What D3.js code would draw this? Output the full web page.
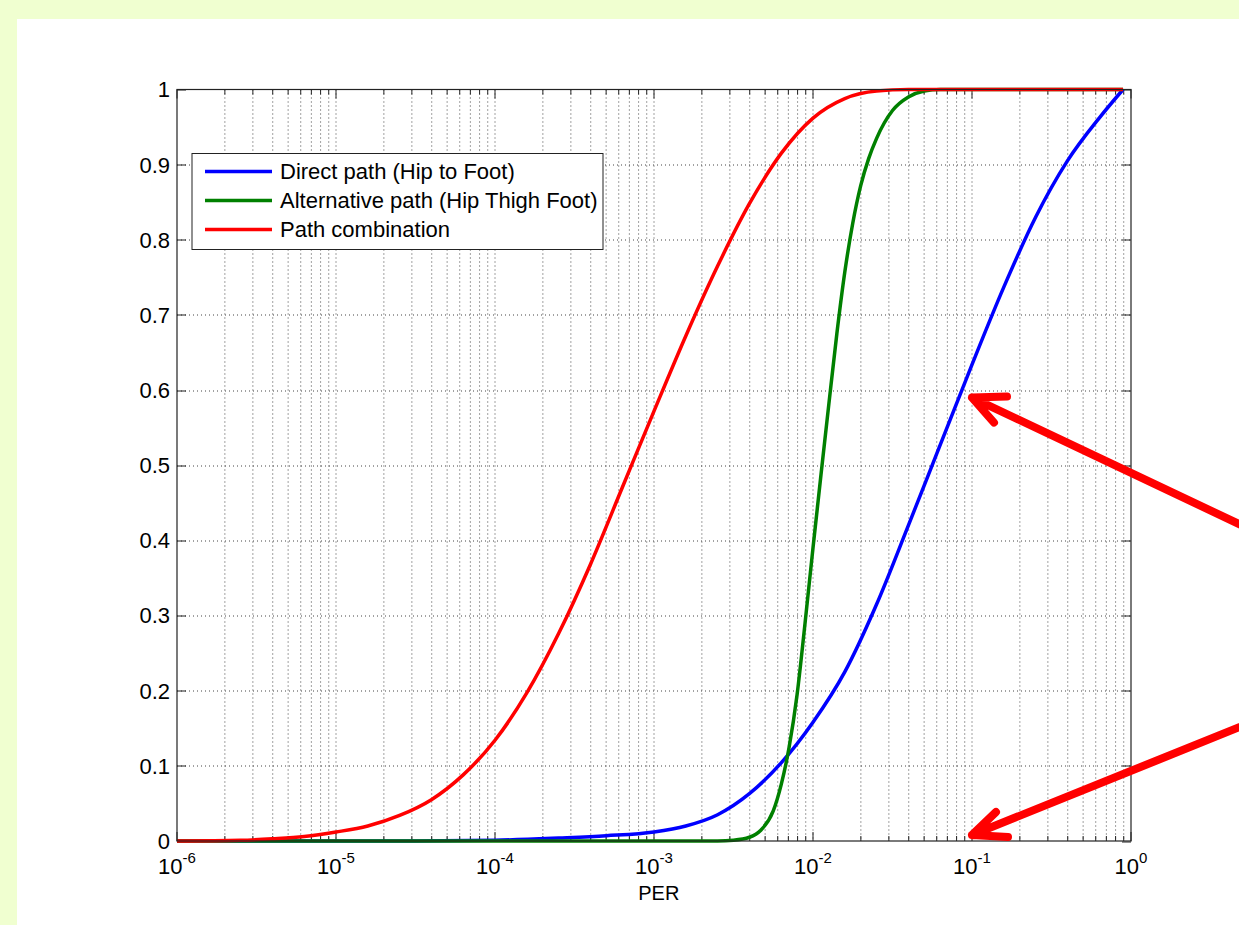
<!DOCTYPE html>
<html>
<head>
<meta charset="utf-8">
<script src="https://cdn.jsdelivr.net/npm/d3@7"></script>
<style>
body { margin: 0; background: #f0ffd0; overflow: hidden; }
text { font-family: "Liberation Sans", Arial, sans-serif; fill: #000; }
</style>
</head>
<body>
<svg id="chart" width="1239" height="925"></svg>
<script>
// PER is stored as its power of ten (log10 PER), values are probabilities
var blueExp = [-6, -4.5, -4.0, -3.6, -3.3, -3.0, -2.8, -2.6, -2.4, -2.2, -2.0, -1.8, -1.6, -1.4, -1.2, -1.0, -0.8, -0.6, -0.4, -0.2, -0.05];
var blueVal = [0, 0, 0.001, 0.004, 0.007, 0.012, 0.02, 0.035, 0.063, 0.104, 0.158, 0.225, 0.315, 0.42, 0.527, 0.634, 0.737, 0.83, 0.905, 0.962, 1];

var greenExp = [-6, -2.6, -2.5, -2.4, -2.33, -2.25, -2.2, -2.15, -2.1, -2.05, -2.0, -1.95, -1.9, -1.85, -1.8, -1.75, -1.7, -1.65, -1.6, -1.5, -1.4, -1.3, -1.2, -0.05];
var greenVal = [0, 0, 0.001, 0.005, 0.014, 0.04, 0.075, 0.125, 0.195, 0.29, 0.39, 0.487, 0.582, 0.675, 0.757, 0.822, 0.872, 0.908, 0.935, 0.972, 0.99, 0.998, 1, 1];

var redExp = [-6, -5.6, -5.4, -5.2, -5.0, -4.8, -4.6, -4.4, -4.2, -4.0, -3.8, -3.6, -3.4, -3.2, -3.0, -2.8, -2.6, -2.4, -2.2, -2.0, -1.8, -1.6, -1.4, -0.05];
var redVal = [0, 0.001, 0.003, 0.006, 0.012, 0.02, 0.034, 0.055, 0.088, 0.134, 0.197, 0.276, 0.368, 0.47, 0.572, 0.672, 0.765, 0.848, 0.915, 0.962, 0.988, 0.998, 1, 1];

var seriesNames = ["Direct path (Hip to Foot)", "Alternative path (Hip Thigh Foot)", "Path combination"];
var seriesColors = ["#0000ff", "#008000", "#ff0000"];

var xTickExp = [-6, -5, -4, -3, -2, -1, 0];
var yTicks = [0, 0.1, 0.2, 0.3, 0.4, 0.5, 0.6, 0.7, 0.8, 0.9, 1];
var yTickLabels = ["0", "0.1", "0.2", "0.3", "0.4", "0.5", "0.6", "0.7", "0.8", "0.9", "1"];
var xLabel = "PER";

// the two red arrows point at these (PER, value) spots
var arrowPer = [0.1, 0.1];
var arrowVal = [0.59, 0.008];

var margin = {top: 89.5, left: 177},
    width = 954,
    height = 751.5;

var svg = d3.select("#chart");

// white figure panel
svg.append("rect")
  .attr("x", 17).attr("y", 19)
  .attr("width", 1239 - 17).attr("height", 925 - 19)
  .attr("fill", "#ffffff");

var g = svg.append("g")
  .attr("transform", "translate(" + margin.left + "," + margin.top + ")");

var x = d3.scaleLog().domain([1e-6, 1]).range([0, width]);
var y = d3.scaleLinear().domain([0, 1]).range([height, 0]);

var allXTicks = x.ticks();
var isMajor = function(v) { return Math.abs(Math.log10(v) - Math.round(Math.log10(v))) < 1e-9; };

// GRID
g.selectAll(".xgrid")
  .data(allXTicks.filter(function(v) { return v > 1e-6 && v < 1; }))
  .enter().append("line")
    .attr("x1", function(d) { return x(d); })
    .attr("x2", function(d) { return x(d); })
    .attr("y1", 0).attr("y2", height)
    .attr("stroke", "#444").attr("stroke-width", 1)
    .attr("stroke-dasharray", "1,3");

g.selectAll(".ygrid")
  .data(yTicks.filter(function(v) { return v > 0 && v < 1; }))
  .enter().append("line")
    .attr("x1", 0).attr("x2", width)
    .attr("y1", function(d) { return Math.round(y(d)) + 0.5; })
    .attr("y2", function(d) { return Math.round(y(d)) + 0.5; })
    .attr("stroke", "#444").attr("stroke-width", 1)
    .attr("stroke-dasharray", "1,3");

// TICKS (inward, on all four sides)
allXTicks.forEach(function(v) {
  var len = isMajor(v) ? 9 : 5;
  g.append("line").attr("x1", x(v)).attr("x2", x(v)).attr("y1", height).attr("y2", height - len)
    .attr("stroke", "#222").attr("stroke-width", 1);
  g.append("line").attr("x1", x(v)).attr("x2", x(v)).attr("y1", 0).attr("y2", len)
    .attr("stroke", "#222").attr("stroke-width", 1);
});
yTicks.forEach(function(v) {
  var yy = Math.round(y(v)) + 0.5;
  g.append("line").attr("x1", 0).attr("x2", 9).attr("y1", yy).attr("y2", yy)
    .attr("stroke", "#222").attr("stroke-width", 1);
  g.append("line").attr("x1", width).attr("x2", width - 9).attr("y1", yy).attr("y2", yy)
    .attr("stroke", "#222").attr("stroke-width", 1);
});

// TICK LABELS
g.selectAll(".ylab")
  .data(yTicks)
  .enter().append("text")
    .attr("x", -7)
    .attr("y", function(d) { return y(d); })
    .attr("dy", "0.36em")
    .attr("text-anchor", "end")
    .attr("font-size", "22px")
    .text(function(d, i) { return yTickLabels[i]; });

var xl = g.selectAll(".xlab")
  .data(xTickExp)
  .enter().append("text")
    .attr("x", function(d) { return x(Math.pow(10, d)); })
    .attr("y", height + 33)
    .attr("text-anchor", "middle")
    .attr("font-size", "22px");
xl.append("tspan").text("10");
xl.append("tspan")
  .attr("font-size", "15px")
  .attr("dy", -11)
  .text(function(d) { return String(d); });

g.append("text")
  .attr("x", x(Math.pow(10, -2.97)))
  .attr("y", height + 59)
  .attr("text-anchor", "middle")
  .attr("font-size", "20px")
  .text(xLabel);

// CURVES
var line = d3.line()
  .x(function(d) { return x(Math.pow(10, d[0])); })
  .y(function(d) { return y(d[1]); })
  .curve(d3.curveMonotoneX);

var series = [
  d3.zip(blueExp, blueVal),
  d3.zip(greenExp, greenVal),
  d3.zip(redExp, redVal)
];

g.selectAll(".curve")
  .data(series)
  .enter().append("path")
    .attr("d", line)
    .attr("fill", "none")
    .attr("stroke", function(d, i) { return seriesColors[i]; })
    .attr("stroke-width", 3.5)
    .attr("stroke-linejoin", "round");

// axes box
g.append("rect")
  .attr("x", 0).attr("y", 0)
  .attr("width", width).attr("height", height)
  .attr("fill", "none")
  .attr("stroke", "#222").attr("stroke-width", 1.2);

// LEGEND
var legend = g.append("g").attr("transform", "translate(15,64)");
legend.append("rect")
  .attr("x", 0).attr("y", 0)
  .attr("width", 411).attr("height", 96)
  .attr("fill", "#ffffff")
  .attr("stroke", "#222").attr("stroke-width", 1);
seriesNames.forEach(function(name, i) {
  var ly = 18 + i * 29;
  legend.append("line")
    .attr("x1", 13).attr("x2", 80)
    .attr("y1", ly).attr("y2", ly)
    .attr("stroke", seriesColors[i]).attr("stroke-width", 3.5);
  legend.append("text")
    .attr("x", 88).attr("y", ly)
    .attr("dy", "0.36em")
    .attr("font-size", "22px")
    .text(name);
});

// ANNOTATION ARROWS
var tails = [[300, 142], [300, -121]];
var barbs = [[[35, -1], [22, 25]], [[36, 2], [24, -23]]];
arrowPer.forEach(function(p, i) {
  var tx = margin.left + x(p), ty = margin.top + y(arrowVal[i]);
  var path = "M" + (tx + tails[i][0]) + "," + (ty + tails[i][1]) + "L" + tx + "," + ty +
    "M" + (tx + barbs[i][0][0]) + "," + (ty + barbs[i][0][1]) + "L" + tx + "," + ty +
    "L" + (tx + barbs[i][1][0]) + "," + (ty + barbs[i][1][1]);
  svg.append("path")
    .attr("d", path)
    .attr("fill", "none")
    .attr("stroke", "#ff0000")
    .attr("stroke-width", 8)
    .attr("stroke-linecap", "round")
    .attr("stroke-linejoin", "round");
});
</script>
</body>
</html>
